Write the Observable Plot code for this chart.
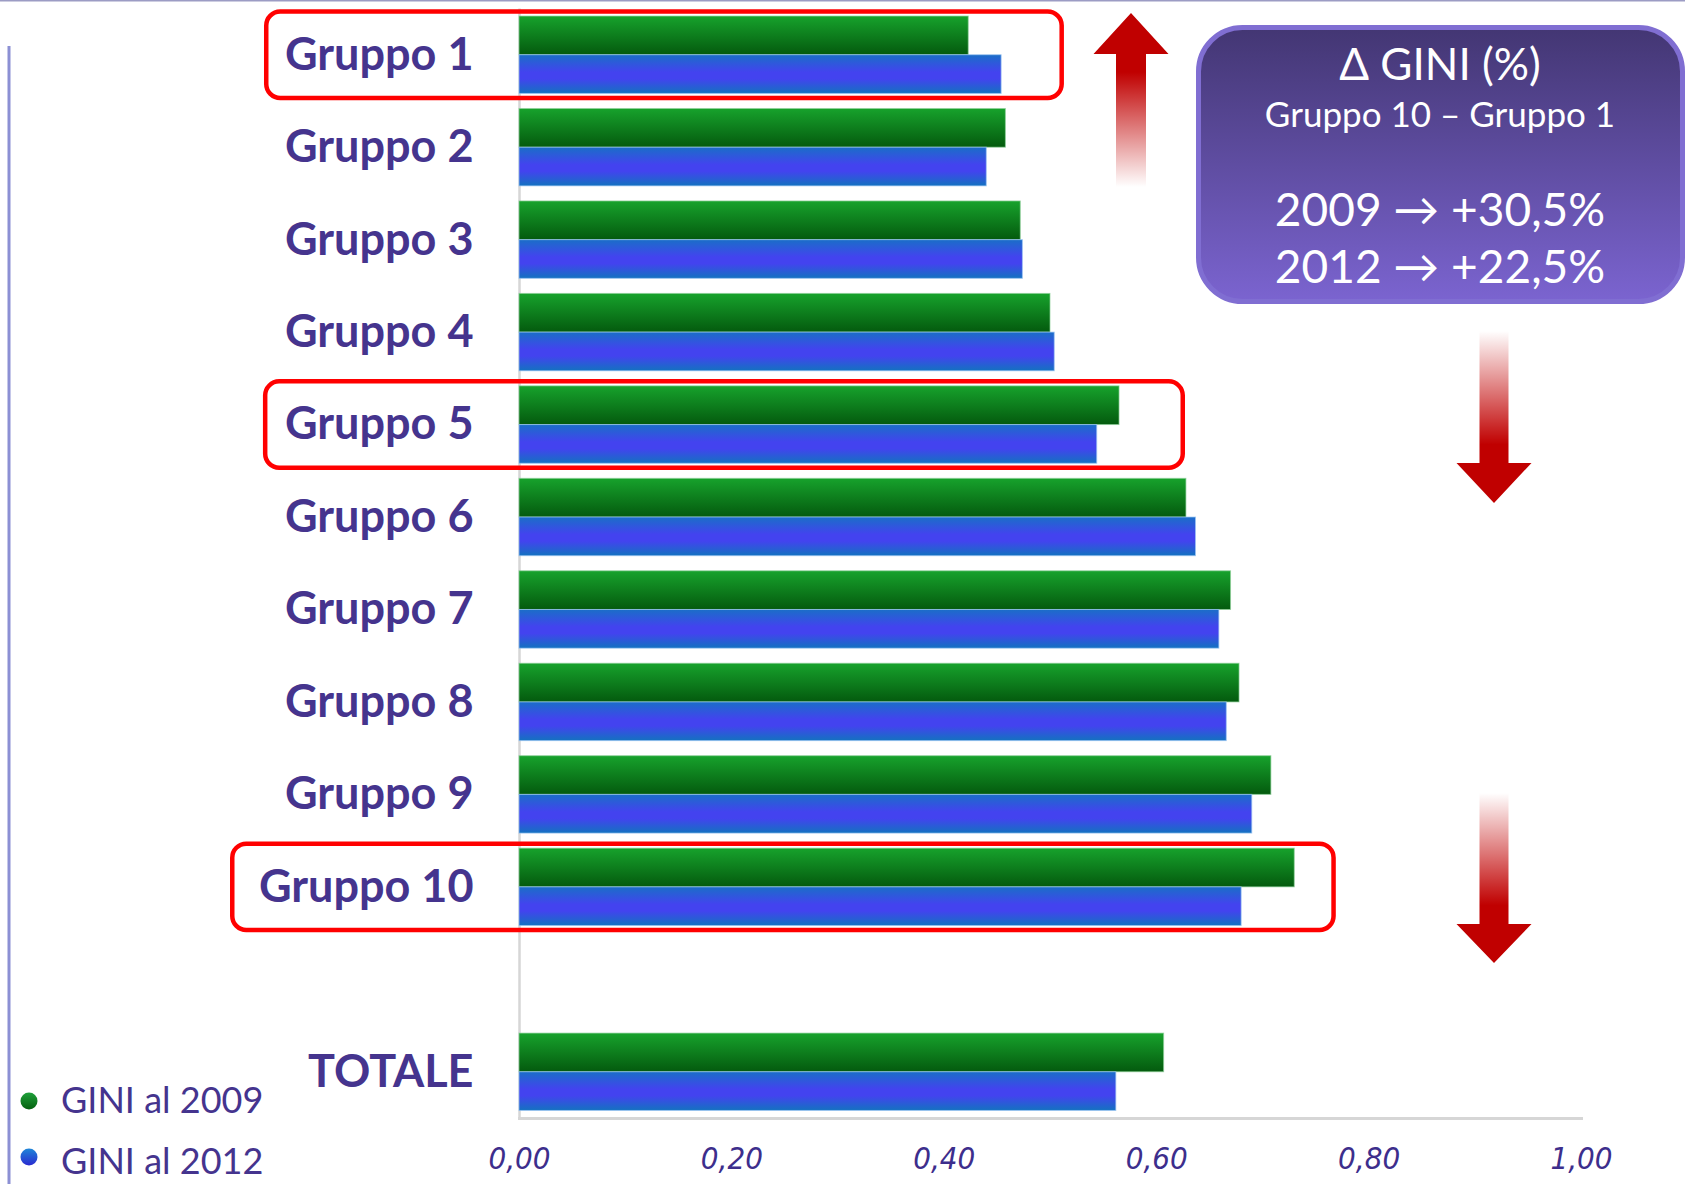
<!DOCTYPE html>
<html><head><meta charset="utf-8">
<script src="https://cdn.jsdelivr.net/npm/d3@7"></script>
<script src="https://cdn.jsdelivr.net/npm/@observablehq/plot@0.6"></script>
<style>
html,body{margin:0;padding:0;background:#fff;}
#chart svg{display:block;}
g[aria-label="y-axis tick label"] text{font-family:Lato,"Open Sans",sans-serif;font-weight:bold;}
g[aria-label="x-axis tick label"] text{font-family:"DejaVu Sans Condensed","DejaVu Sans",sans-serif;font-stretch:condensed;font-style:italic;}
</style>
</head><body><div id="chart"></div>
<script>
// ---- data ----
const categories = ["Gruppo 1","Gruppo 2","Gruppo 3","Gruppo 4","Gruppo 5","Gruppo 6","Gruppo 7","Gruppo 8","Gruppo 9","Gruppo 10","TOTALE"];
const gini2009 = [0.423,0.458,0.472,0.500,0.565,0.628,0.670,0.678,0.708,0.730,0.607];
const gini2012 = [0.454,0.440,0.474,0.504,0.544,0.637,0.659,0.666,0.690,0.680,0.562];
const seriesLabels = ["GINI al 2009","GINI al 2012"];
const xTicks = [0,0.2,0.4,0.6,0.8,1.0];
const highlightCats = ["Gruppo 1","Gruppo 5","Gruppo 10"];
const highlightLeft = [-0.238,-0.239,-0.270];
const highlightRight = [0.511,0.625,0.767];
const boxTitle = "\u0394 GINI (%)";
const boxSubtitle = "Gruppo 10 \u2013 Gruppo 1";
const boxLines = ["2009 \u2192 +30,5%","2012 \u2192 +22,5%"];

// ---- layout ----
const W=1685,H=1184,mL=519,mR=104,mT=8.5,mB=66;
const pI=0.163,pO=0.0815;
const yDomain=[...categories.slice(0,10),"",categories[10]];
const step=(H-mT-mB)/(yDomain.length-pI+2*pO);
const half=step*(1-pI)/2;
const textColor="#45348e";

const rows=categories.map((c,i)=>({cat:c,v2009:gini2009[i],v2012:gini2012[i]}));
const highlights=highlightCats.map((c,i)=>({cat:c,left:highlightLeft[i],right:highlightRight[i]}));

const plot=Plot.plot({
  width:W,height:H,marginLeft:mL,marginRight:mR,marginTop:mT,marginBottom:mB,
  style:{background:"transparent",overflow:"visible"},
  x:{domain:[0,1],label:null},
  y:{type:"band",domain:yDomain,paddingInner:pI,paddingOuter:pO,round:false,label:null},
  marks:[
    Plot.ruleX([0],{stroke:"#d6d6d6",strokeWidth:2.5}),
    Plot.frame({anchor:"bottom",stroke:"#d6d6d6",strokeWidth:3}),
    Plot.barX(rows,{y:"cat",x:"v2009",fill:"url(#gGreen)",insetBottom:half,stroke:"#8fd09a",strokeOpacity:0.7,strokeWidth:1}),
    Plot.barX(rows,{y:"cat",x:"v2012",fill:"url(#gBlue)",insetTop:half,stroke:"#9cc4f4",strokeOpacity:0.7,strokeWidth:1}),
    Plot.barX(highlights,{y:"cat",x1:"left",x2:"right",fill:"none",stroke:"#ff0000",strokeWidth:4.5,rx:14,insetTop:-4.5,insetBottom:-4.5}),
    Plot.axisY({tickSize:0,tickPadding:46,fontSize:45,fontWeight:"bold",fontFamily:"Lato",color:textColor,label:null}),
    Plot.axisX({ticks:xTicks,tickFormat:d=>d.toFixed(2).replace(".",","),tickSize:0,tickPadding:28,fontSize:31,fontStyle:"italic",color:"#3d2e8c",label:null})
  ]
});
document.getElementById("chart").appendChild(plot);

// ---- decorations ----
const svg=d3.select(plot);
const defs=svg.insert("defs",":first-child");
function grad(id,stops,x1,y1,x2,y2){
  const g=defs.append("linearGradient").attr("id",id).attr("x1",x1).attr("y1",y1).attr("x2",x2).attr("y2",y2);
  stops.forEach(s=>g.append("stop").attr("offset",s[0]).attr("stop-color",s[1]).attr("stop-opacity",s[2]==null?1:s[2]));
}
grad("gGreen",[[0,"#17a22c"],[1,"#045a0e"]],0,0,0,1);
grad("gBlue",[[0,"#1a6ec8"],[0.45,"#4343ef"],[0.62,"#4343ef"],[1,"#1372c0"]],0,0,0,1);
grad("gBox",[[0,"#433673"],[1,"#7b64d0"]],0,0,0,1);
grad("gUp",[[0,"#c00000",0],[0.66,"#c00000",1],[1,"#c00000",1]],0,1,0,0);
grad("gDown",[[0,"#c00000",0],[0.66,"#c00000",1],[1,"#c00000",1]],0,0,0,1);
grad("gDotG",[[0,"#1ea03a"],[1,"#05600f"]],0,0,0,1);
grad("gDotB",[[0,"#1f86d8"],[1,"#2a2ad0"]],0,0,0,1);

const deco=svg.append("g").attr("text-anchor","start");
// frame lines
deco.append("line").attr("x1",0).attr("x2",W).attr("y1",0.75).attr("y2",0.75).attr("stroke","#9c9cc4").attr("stroke-width",1.5);
deco.append("line").attr("x1",9).attr("x2",9).attr("y1",46).attr("y2",H).attr("stroke","#8c90d4").attr("stroke-width",3);

// arrows
function arrowUp(cx,tip,base,end){
  return `M${cx},${tip}L${cx+37.5},${base}L${cx+15},${base}L${cx+15},${end}L${cx-15},${end}L${cx-15},${base}L${cx-37.5},${base}Z`;
}
function arrowDown(cx,start,base,tip){
  return `M${cx-14.5},${start}L${cx+14.5},${start}L${cx+14.5},${base}L${cx+37.5},${base}L${cx},${tip}L${cx-37.5},${base}L${cx-14.5},${base}Z`;
}
deco.append("path").attr("d",arrowUp(1131,13,54,187)).attr("fill","url(#gUp)");
deco.append("path").attr("d",arrowDown(1494,331,463,503)).attr("fill","url(#gDown)");
deco.append("path").attr("d",arrowDown(1494,793,924,963)).attr("fill","url(#gDown)");

// purple box
deco.append("rect").attr("x",1198.5).attr("y",27.5).attr("width",484).attr("height",274).attr("rx",44)
  .attr("fill","url(#gBox)").attr("stroke","#806ed2").attr("stroke-width",5);
const bt=deco.append("g").attr("fill","#fff").attr("text-anchor","middle").attr("font-family","Lato,'Open Sans',sans-serif");
bt.append("text").attr("x",1440).attr("y",80).attr("font-size",44).text(boxTitle);
bt.append("text").attr("x",1440).attr("y",127).attr("font-size",35).text(boxSubtitle);
bt.append("text").attr("x",1440).attr("y",226).attr("font-size",46).text(boxLines[0]);
bt.append("text").attr("x",1440).attr("y",283).attr("font-size",46).text(boxLines[1]);

// legend
const lg=deco.append("g").attr("font-family","Lato,'Open Sans',sans-serif").attr("font-size",36).attr("fill",textColor).attr("text-anchor","start");
[["url(#gDotG)",1101],["url(#gDotB)",1157]].forEach((d,i)=>{
  lg.append("circle").attr("cx",29).attr("cy",d[1]).attr("r",8.5).attr("fill",d[0]);
  lg.append("text").attr("x",61).attr("y",d[1]+(i?4:-1)).attr("dy","0.36em").attr("text-anchor","start").text(seriesLabels[i]);
});
</script>
</body></html>
